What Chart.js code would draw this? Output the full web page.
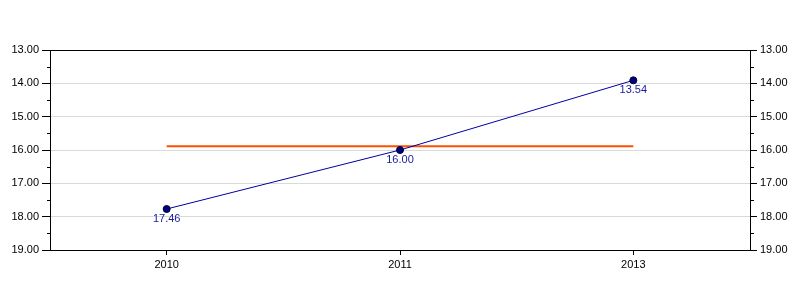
<!DOCTYPE html>
<html><head><meta charset="utf-8">
<script src="https://cdn.jsdelivr.net/npm/chart.js@4"></script>
<style>html,body{margin:0;padding:0;background:#fff}#wrap{width:800px;height:300px}</style>
</head><body><div id="wrap"><canvas id="c" width="800" height="300"></canvas></div>
<script>
const categories = ['2010', '2011', '2013'];
const seriesValues = [17.77, 16.00, 13.91];
const pointLabels = ['17.46', '16.00', '13.54'];
const averageValues = [15.89, 15.89, 15.89];
const yMin = 13, yMax = 19;

const FONT = {family: '"Liberation Sans", Arial, sans-serif', size: 11};

const extras = {
  id: 'extras',
  afterDatasetsDraw(chart) {
    const ctx = chart.ctx, a = chart.chartArea;
    ctx.save();
    ctx.strokeStyle = '#000'; ctx.lineWidth = 1;
    ctx.strokeRect(Math.round(a.left) + 0.5, Math.round(a.top) + 0.5, Math.round(a.right - a.left), Math.round(a.bottom - a.top));
    // minor ticks
    const ys = chart.scales.y;
    ctx.beginPath();
    for (let v = yMin + 0.5; v < yMax; v += 1) {
      const p = Math.round(ys.getPixelForValue(v)) + 0.5;
      ctx.moveTo(a.left - 3, p); ctx.lineTo(a.left, p);
      ctx.moveTo(a.right, p); ctx.lineTo(a.right + 4, p);
    }
    ctx.stroke();
    // data labels
    const meta = chart.getDatasetMeta(0);
    ctx.fillStyle = '#1a1a9a';
    ctx.font = '11px "Liberation Sans", Arial, sans-serif';
    ctx.textAlign = 'center'; ctx.textBaseline = 'middle';
    meta.data.forEach((pt, i) => ctx.fillText(pointLabels[i], pt.x, pt.y + 10));
    ctx.restore();
  }
};

const yCommon = {
  type: 'linear', reverse: true, min: yMin, max: yMax,
  ticks: {stepSize: 1, color: '#000', font: FONT, padding: 3, callback: v => Number(v).toFixed(2)},
  border: {display: true, color: '#000'},
};

new Chart(document.getElementById('c'), {
  type: 'line',
  data: {
    labels: categories,
    datasets: [
      {data: seriesValues, borderColor: '#0000a0', borderWidth: 1, pointRadius: 3.5, pointBackgroundColor: '#000080', pointBorderColor: '#000033', pointBorderWidth: 1, tension: 0, yAxisID: 'y', order: 0},
      {data: averageValues, borderColor: '#ff5000', borderWidth: 2, pointRadius: 0, tension: 0, yAxisID: 'y', order: 1}
    ]
  },
  options: {
    responsive: false, animation: false, devicePixelRatio: 1,
    layout: {padding: {top: 50, left: 0, right: 0, bottom: 0}},
    plugins: {legend: {display: false}, tooltip: {enabled: false}},
    scales: {
      x: {
        offset: true,
        grid: {display: true, drawOnChartArea: false, tickLength: 5, color: '#000', offset: false},
        border: {display: true, color: '#000'},
        ticks: {color: '#000', font: FONT, padding: 3, maxRotation: 0},
        afterFit: s => { s.height = 50; }
      },
      y: Object.assign({}, yCommon, {
        position: 'left',
        grid: {color: ctx => (ctx.tick && ctx.tick.value > yMin && ctx.tick.value < yMax) ? '#d9d9d9' : 'transparent', tickColor: '#000', tickLength: 8},
        afterFit: s => { s.width = 50; }
      }),
      y2: Object.assign({}, yCommon, {
        position: 'right',
        grid: {drawOnChartArea: false, tickColor: '#000', tickLength: 7},
        afterFit: s => { s.width = 50; }
      })
    }
  },
  plugins: [extras]
});
</script>
</body></html>
